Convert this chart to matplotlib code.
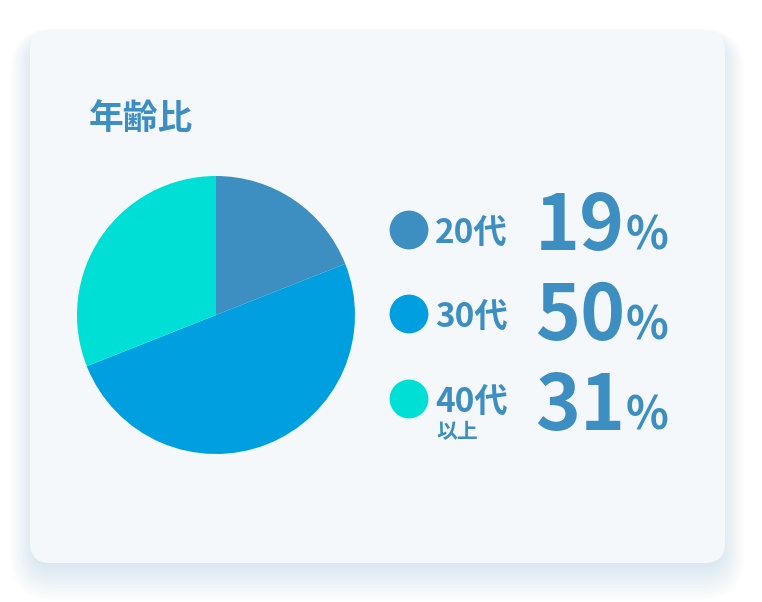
import matplotlib
matplotlib.use("Agg")
import matplotlib.pyplot as plt
from matplotlib.patches import FancyBboxPatch

plt.rcParams['font.family'] = ['Noto Sans CJK JP', 'DejaVu Sans']

# data
title = "年齢比"
labels = ["20代", "30代", "40代"]
sub_labels = ["", "", "以上"]
values = [19, 50, 31]
colors = ["#3d8fc1", "#009fdf", "#00dfd6"]
text_color = "#3d8fc1"

W, H = 762, 602
fig = plt.figure(figsize=(W / 100, H / 100), dpi=100)
fig.patch.set_facecolor("white")

# background axes in pixel coords (y down)
bg = fig.add_axes([0, 0, 1, 1])
bg.set_xlim(0, W)
bg.set_ylim(H, 0)
bg.axis("off")

# soft shadow, mostly below the card
cx0, cy0, cw, ch = 30, 30, 695, 533
for i in range(12):
    pad = 1 + i * 2.0
    bg.add_patch(FancyBboxPatch((cx0 + 4, cy0 + 10 + pad * 0.5),
                                cw - 8, ch - 8,
                                boxstyle=f"round,pad={pad},rounding_size={20 + pad}",
                                facecolor="#a9c8e0", edgecolor="none",
                                alpha=0.035, zorder=1))
# card
bg.add_patch(FancyBboxPatch((cx0, cy0), cw, ch,
                            boxstyle="round,pad=0,rounding_size=20",
                            facecolor="#f4f8fb", edgecolor="none", zorder=2))

bg.text(89, 119, title, color=text_color, fontsize=25, fontweight="bold",
        ha="left", va="center", zorder=5)

# pie
pcx, pcy, r = 216, 315, 139
pax = fig.add_axes([(pcx - r) / W, (H - pcy - r) / H, 2 * r / W, 2 * r / H])
pax.pie(values, colors=colors, startangle=90, counterclock=False,
        radius=1, wedgeprops=dict(linewidth=0))
pax.set_xlim(-1, 1)
pax.set_ylim(-1, 1)
pax.set_aspect("equal")
pax.axis("off")

# legend rows
row_y = [230, 314, 399]
num_base = [250, 340, 430]
for i, (lab, sub, val, col) in enumerate(zip(labels, sub_labels, values, colors)):
    y = row_y[i]
    bg.scatter([409], [y], s=780, color=col, edgecolor="none", zorder=5)
    bg.text(435, y + 13, lab, color=text_color, fontsize=24, fontweight="bold",
            ha="left", va="baseline", zorder=5)
    if sub:
        bg.text(436, y + 39, sub, color=text_color, fontsize=15, fontweight="bold",
                ha="left", va="baseline", zorder=5)
    bg.text(625, num_base[i], str(val),
            color=text_color, fontsize=55, fontweight="bold",
            ha="right", va="baseline", zorder=5)
    bg.text(626, num_base[i], "%",
            color=text_color, fontsize=32, fontweight="bold",
            ha="left", va="baseline", zorder=5)

fig.savefig("out.png", dpi=100, facecolor="white")
